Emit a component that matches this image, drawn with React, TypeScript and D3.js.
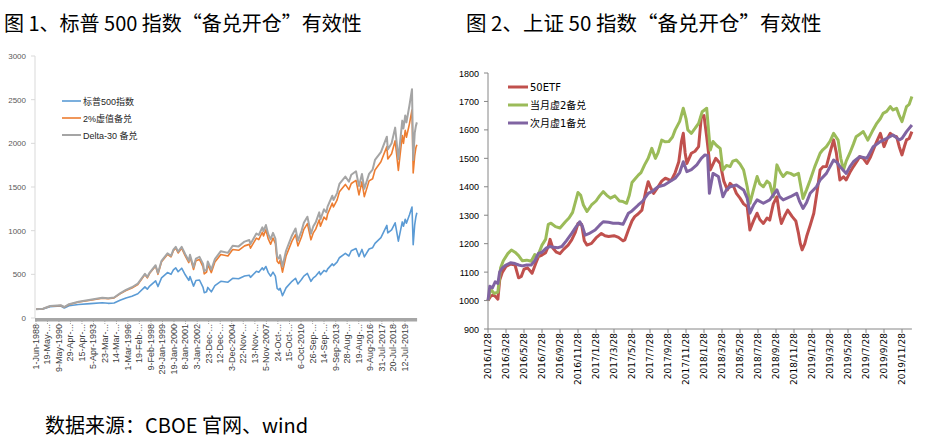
import React from 'react';
import * as d3 from 'd3';

const W = 933;
const H = 446;

// ---------- Chart 1 data (decimal years) ----------
const spxYears = [1988.42, 1989.0, 1989.6, 1990.5, 1990.8, 1991.2, 1992.0, 1993.0, 1994.0, 1994.5, 1995.0, 1995.5, 1996.0, 1996.5, 1997.0, 1997.6, 1997.8, 1998.0, 1998.5, 1998.7, 1999.0, 1999.5, 1999.8, 2000.0, 2000.2, 2000.4, 2000.7, 2001.0, 2001.3, 2001.4, 2001.7, 2001.9, 2002.2, 2002.5, 2002.6, 2002.8, 2002.9, 2003.2, 2003.5, 2004.0, 2004.6, 2005.0, 2005.5, 2006.0, 2006.4, 2006.5, 2007.0, 2007.2, 2007.5, 2007.6, 2007.8, 2008.0, 2008.2, 2008.4, 2008.6, 2008.75, 2008.9, 2009.0, 2009.2, 2009.5, 2010.0, 2010.3, 2010.5, 2010.8, 2011.0, 2011.3, 2011.6, 2011.8, 2012.0, 2012.3, 2012.4, 2012.7, 2012.9, 2013.0, 2013.4, 2013.5, 2013.8, 2014.0, 2014.5, 2014.8, 2015.0, 2015.4, 2015.65, 2015.9, 2016.1, 2016.5, 2016.8, 2017.0, 2017.5, 2018.0, 2018.08, 2018.4, 2018.7, 2018.97, 2019.3, 2019.4, 2019.55, 2019.65, 2019.9, 2020.12, 2020.22, 2020.35, 2020.45, 2020.53];
const spxIndex = [100, 104, 130, 137, 115, 140, 155, 165, 175, 168, 172, 204, 230, 250, 278, 357, 330, 366, 425, 360, 460, 520, 500, 550, 574, 530, 570, 495, 430, 475, 365, 430, 435, 350, 290, 300, 350, 300, 370, 420, 410, 455, 450, 480, 490, 465, 535, 525, 575, 550, 590, 520, 480, 525, 480, 340, 320, 340, 255, 345, 420, 455, 390, 440, 480, 510, 420, 460, 480, 530, 495, 545, 530, 560, 620, 600, 640, 690, 740, 710, 770, 795, 705, 785, 700, 790, 805, 855, 920, 1060, 975, 1010, 1090, 880, 1100, 1050, 1130, 1085, 1180, 1270, 840, 1070, 1160, 1205];
const otm2Values = [100, 105, 135, 144, 124, 155, 183, 204, 228, 220, 230, 276, 315, 344, 384, 498, 460, 512, 595, 500, 644, 728, 700, 770, 803, 745, 800, 710, 635, 705, 555, 655, 670, 585, 505, 525, 612, 520, 640, 727, 710, 785, 775, 826, 843, 800, 915, 898, 982, 940, 1010, 905, 845, 915, 855, 650, 625, 660, 525, 710, 880, 955, 825, 928, 1015, 1080, 895, 975, 1018, 1125, 1050, 1155, 1125, 1188, 1315, 1272, 1350, 1445, 1530, 1470, 1540, 1575, 1410, 1560, 1390, 1570, 1595, 1695, 1790, 1962, 1820, 1880, 2030, 1690, 2090, 2000, 2150, 2070, 2220, 2382, 1660, 1860, 1950, 1985];
const delta30Values = [100, 106, 137, 146, 126, 158, 186, 208, 231, 225, 235, 282, 322, 352, 394, 507, 470, 520, 604, 515, 655, 740, 712, 783, 815, 760, 815, 730, 655, 725, 580, 680, 700, 620, 535, 555, 648, 555, 675, 765, 746, 828, 820, 875, 893, 848, 968, 950, 1038, 995, 1065, 960, 900, 975, 910, 700, 680, 720, 590, 770, 945, 1025, 885, 995, 1090, 1160, 965, 1050, 1095, 1210, 1130, 1245, 1210, 1275, 1400, 1350, 1430, 1535, 1620, 1560, 1640, 1680, 1510, 1650, 1480, 1650, 1700, 1810, 1900, 2076, 1930, 2000, 2180, 1820, 2260, 2170, 2320, 2240, 2430, 2619, 1810, 2120, 2200, 2240];
const chart1TickYears = [1988.415, 1989.38, 1990.35, 1991.32, 1992.29, 1993.26, 1994.22, 1995.2, 1996.16, 1997.13, 1998.11, 1999.08, 2000.05, 2001.02, 2002.01, 2002.97, 2003.95, 2004.92, 2005.89, 2006.87, 2007.84, 2008.81, 2009.79, 2010.76, 2011.74, 2012.7, 2013.69, 2014.65, 2015.63, 2016.6, 2017.58, 2018.55, 2019.53];
const chart1TickLabels = ['1-Jun-1988', '19-May-...', '9-May-1990', '29-Apr-...', '15-Apr-...', '5-Apr-1993', '23-Mar-...', '14-Mar-...', '1-Mar-1996', '19-Feb-...', '9-Feb-1998', '29-Jan-1999', '19-Jan-2000', '8-Jan-2001', '3-Jan-2002', '23-Dec-...', '12-Dec-...', '3-Dec-2004', '22-Nov-...', '13-Nov-...', '5-Nov-2007', '24-Oct-...', '15-Oct-...', '6-Oct-2010', '26-Sep-...', '14-Sep-...', '9-Sep-2013', '28-Aug-...', '19-Aug-...', '9-Aug-2016', '31-Jul-2017', '20-Jul-2018', '12-Jul-2019'];
const chart1YTicks = [0, 500, 1000, 1500, 2000, 2500, 3000];
const chart1Legend = ['标普500指数', '2%虚值备兑', 'Delta-30 备兑'];

// ---------- Chart 2 data (months since 2016/1/28) ----------
const etfMonths = [0, 0.3, 0.6, 0.9, 1.1, 1.3, 1.6, 2.0, 2.5, 3.0, 3.4, 3.7, 4.0, 4.4, 4.9, 5.3, 5.6, 6.0, 6.4, 6.7, 6.9, 7.2, 7.6, 8.0, 8.4, 8.9, 9.3, 9.7, 10.0, 10.4, 10.7, 11.0, 11.5, 12.0, 12.6, 13.0, 13.4, 14.0, 14.5, 15.0, 15.2, 15.6, 16.0, 16.3, 16.7, 17.1, 17.5, 17.8, 18.1, 18.4, 18.9, 19.3, 19.7, 20.1, 20.4, 20.8, 21.2, 21.5, 21.7, 21.9, 22.1, 22.6, 23.0, 23.4, 23.7, 24.0, 24.3, 24.5, 24.7, 25.0, 25.3, 25.8, 26.2, 26.6, 26.9, 27.3, 27.6, 28.0, 28.4, 28.8, 29.1, 29.5, 29.9, 30.2, 30.6, 31.0, 31.3, 31.7, 32.1, 32.4, 32.6, 33.0, 33.3, 33.8, 34.2, 34.5, 34.7, 34.9, 35.2, 35.4, 35.8, 36.2, 36.6, 36.9, 37.2, 37.6, 38.0, 38.4, 38.7, 39.1, 39.5, 39.8, 40.2, 40.6, 41.0, 41.3, 41.7, 42.1, 42.5, 42.8, 43.2, 43.6, 44.0, 44.3, 44.7, 45.0, 45.4, 45.7, 46.0, 46.3, 46.5, 46.8, 47.1];
const etfValues = [1000, 1015, 1020, 1012, 1005, 1072, 1100, 1120, 1128, 1125, 1080, 1085, 1110, 1115, 1096, 1130, 1154, 1160, 1168, 1190, 1215, 1185, 1170, 1165, 1180, 1195, 1213, 1240, 1271, 1268, 1210, 1195, 1201, 1220, 1236, 1228, 1225, 1228, 1222, 1210, 1213, 1248, 1280, 1295, 1305, 1318, 1380, 1418, 1395, 1377, 1400, 1420, 1430, 1425, 1424, 1450, 1488, 1560, 1588, 1520, 1482, 1518, 1525, 1541, 1646, 1650, 1576, 1520, 1459, 1480, 1500, 1482, 1420, 1389, 1412, 1400, 1377, 1360, 1340, 1330, 1248, 1280, 1307, 1285, 1271, 1290, 1283, 1340, 1365, 1300, 1271, 1300, 1318, 1295, 1280, 1236, 1200, 1178, 1200, 1225, 1265, 1307, 1390, 1459, 1470, 1471, 1520, 1565, 1520, 1424, 1435, 1424, 1450, 1471, 1490, 1506, 1500, 1482, 1505, 1529, 1560, 1588, 1541, 1565, 1588, 1580, 1576, 1540, 1512, 1545, 1565, 1570, 1594];
const front2Months = [0, 0.3, 0.7, 1.1, 1.4, 1.7, 2.2, 2.6, 3.0, 3.4, 3.8, 4.3, 4.8, 5.2, 5.5, 6.0, 6.4, 6.7, 7.0, 7.5, 8.0, 8.6, 9.0, 9.4, 10.0, 10.3, 10.6, 11.0, 11.5, 12.0, 12.4, 12.8, 13.2, 13.6, 14.1, 14.6, 15.0, 15.4, 15.7, 16.0, 16.4, 16.7, 17.0, 17.4, 17.8, 18.2, 18.6, 18.9, 19.3, 19.7, 20.1, 20.5, 20.8, 21.3, 21.7, 22.0, 22.2, 22.6, 23.0, 23.4, 23.8, 24.3, 24.5, 24.7, 25.0, 25.4, 25.8, 26.1, 26.5, 26.9, 27.2, 27.6, 28.0, 28.4, 28.8, 29.1, 29.5, 29.9, 30.2, 30.6, 31.0, 31.3, 31.7, 32.1, 32.5, 32.8, 33.2, 33.6, 34.0, 34.5, 35.0, 35.4, 35.8, 36.3, 36.9, 37.2, 37.6, 38.0, 38.4, 38.9, 39.2, 39.5, 39.8, 40.2, 40.6, 40.9, 41.3, 41.7, 42.2, 42.7, 43.2, 43.6, 43.9, 44.3, 44.7, 45.0, 45.4, 45.7, 46.0, 46.5, 46.8, 47.1];
const front2Values = [1000, 1040, 1025, 1030, 1115, 1140, 1165, 1178, 1170, 1158, 1140, 1142, 1138, 1162, 1155, 1195, 1215, 1268, 1272, 1260, 1255, 1277, 1290, 1310, 1380, 1370, 1336, 1313, 1336, 1350, 1368, 1383, 1370, 1360, 1368, 1350, 1348, 1342, 1370, 1415, 1430, 1441, 1450, 1477, 1500, 1535, 1500, 1520, 1564, 1558, 1559, 1575, 1600, 1630, 1676, 1640, 1600, 1588, 1605, 1623, 1664, 1676, 1600, 1529, 1559, 1545, 1535, 1459, 1475, 1471, 1490, 1494, 1480, 1459, 1400, 1342, 1390, 1436, 1410, 1400, 1420, 1412, 1365, 1477, 1450, 1436, 1450, 1447, 1440, 1447, 1359, 1390, 1424, 1470, 1518, 1530, 1541, 1560, 1588, 1564, 1500, 1459, 1490, 1518, 1550, 1576, 1585, 1594, 1564, 1595, 1623, 1640, 1658, 1665, 1682, 1670, 1676, 1650, 1629, 1682, 1690, 1717];
const next1Months = [0, 0.2, 0.5, 0.8, 1.1, 1.3, 1.6, 2.0, 2.5, 3.0, 3.4, 3.8, 4.3, 4.8, 5.2, 5.6, 6.0, 6.5, 6.9, 7.3, 7.8, 8.2, 8.7, 9.3, 9.8, 10.2, 10.5, 10.8, 11.2, 11.9, 12.4, 12.8, 13.4, 13.9, 14.5, 15.0, 15.6, 16.0, 16.7, 17.2, 17.8, 18.3, 18.9, 19.6, 20.3, 20.8, 21.3, 21.7, 22.1, 22.6, 23.2, 23.7, 24.1, 24.4, 24.6, 25.0, 25.6, 26.1, 26.5, 26.9, 27.6, 28.4, 28.8, 29.1, 29.5, 29.9, 30.6, 31.3, 32.1, 32.4, 32.8, 33.6, 34.3, 34.6, 35.0, 35.4, 35.8, 36.5, 36.9, 37.6, 38.4, 38.8, 39.1, 39.8, 40.2, 40.6, 41.3, 42.1, 42.8, 43.6, 44.3, 45.0, 45.7, 46.0, 46.5, 47.1];
const next1Values = [1000, 1050, 1045, 1066, 1060, 1101, 1115, 1125, 1133, 1130, 1125, 1122, 1125, 1125, 1140, 1166, 1170, 1185, 1190, 1187, 1186, 1190, 1210, 1236, 1260, 1277, 1260, 1230, 1235, 1248, 1265, 1277, 1275, 1272, 1272, 1268, 1307, 1315, 1336, 1350, 1377, 1385, 1400, 1406, 1420, 1430, 1450, 1488, 1453, 1460, 1477, 1500, 1512, 1510, 1377, 1447, 1436, 1365, 1390, 1400, 1406, 1389, 1360, 1307, 1335, 1354, 1342, 1354, 1389, 1365, 1354, 1365, 1377, 1350, 1324, 1345, 1377, 1400, 1424, 1447, 1494, 1485, 1471, 1447, 1470, 1488, 1506, 1500, 1541, 1559, 1570, 1582, 1565, 1570, 1594, 1617];
const chart2TickLabels = ['2016/1/28', '2016/3/28', '2016/5/28', '2016/7/28', '2016/9/28', '2016/11/28', '2017/1/28', '2017/3/28', '2017/5/28', '2017/7/28', '2017/9/28', '2017/11/28', '2018/1/28', '2018/3/28', '2018/5/28', '2018/7/28', '2018/9/28', '2018/11/28', '2019/1/28', '2019/3/28', '2019/5/28', '2019/7/28', '2019/9/28', '2019/11/28'];
const chart2YTicks = [900, 1000, 1100, 1200, 1300, 1400, 1500, 1600, 1700, 1800];
const chart2Legend = ['50ETF', '当月虚2备兑', '次月虚1备兑'];

const CJK = '"Noto Sans CJK SC", sans-serif';
const LAT_CJK = '"Liberation Sans", "Noto Sans CJK SC", sans-serif';
const DV_CJK = '"DejaVu Sans", "Noto Sans CJK SC", sans-serif';

function Chart1() {
  const x = d3.scaleLinear().domain([1988.415, 2019.53]).range([36, 405]);
  const y = d3.scaleLinear().domain([0, 3000]).range([318, 56]);
  const mk = (vals: number[]) =>
    d3.line<number>().x((_, i) => x(spxYears[i])).y((v) => y(v))(vals) || '';
  const series = [
    { vals: spxIndex, color: '#5B9BD5', w: 1.6 },
    { vals: otm2Values, color: '#ED7D31', w: 1.6 },
    { vals: delta30Values, color: '#A5A5A5', w: 2 },
  ];
  const xEnd = x(2020.55);
  return (
    <g>
      <line x1={35} x2={35} y1={56} y2={318} stroke="#d9d9d9" strokeWidth={1} />
      {chart1YTicks.map((t) => (
        <g key={t}>
          <line x1={31} x2={35} y1={y(t)} y2={y(t)} stroke="#d9d9d9" />
          <text x={26} y={y(t) + 3} fontSize={8} fill="#595959" textAnchor="end" fontFamily={LAT_CJK}>
            {t}
          </text>
        </g>
      ))}
      {series.map((s, i) => (
        <path key={i} d={mk(s.vals)} fill="none" stroke={s.color} strokeWidth={s.w} strokeLinejoin="round" />
      ))}
      <rect x={35} y={318} width={xEnd - 35} height={3.5} fill="#a6a6a6" />
      {chart1TickYears.map((t, i) => (
        <g key={i}>
          <line x1={x(t)} x2={x(t)} y1={321} y2={324} stroke="#a6a6a6" strokeDasharray="1,1" />
          <text
            transform={`translate(${x(t) + 3},${324}) rotate(-90)`}
            fontSize={9}
            fill="#404040"
            textAnchor="end"
            fontFamily={LAT_CJK}
          >
            {chart1TickLabels[i]}
          </text>
        </g>
      ))}
      {chart1Legend.map((name, i) => (
        <g key={name}>
          <line x1={62} x2={81} y1={101 + i * 17} y2={101 + i * 17} stroke={series[i].color} strokeWidth={series[i].w} />
          <text x={83} y={101 + i * 17 + 3.5} fontSize={9} fill="#262626" fontFamily={LAT_CJK}>
            {name}
          </text>
        </g>
      ))}
    </g>
  );
}

function Chart2() {
  const x = d3.scaleLinear().domain([0, 46]).range([488, 902]);
  const y = d3.scaleLinear().domain([900, 1800]).range([329, 73]);
  const mk = (ms: number[], vals: number[]) =>
    d3.line<number>().x((_, i) => x(ms[i])).y((v) => y(v))(vals) || '';
  const series = [
    { ms: etfMonths, vals: etfValues, color: '#C0504D' },
    { ms: front2Months, vals: front2Values, color: '#9BBB59' },
    { ms: next1Months, vals: next1Values, color: '#8064A2' },
  ];
  return (
    <g>
      <line x1={488} x2={488} y1={73} y2={329} stroke="#868686" />
      {chart2YTicks.map((t) => (
        <g key={t}>
          <line x1={484} x2={488} y1={y(t)} y2={y(t)} stroke="#868686" />
          <text x={479} y={y(t) + 3.5} fontSize={9} fill="#000" textAnchor="end" fontFamily={LAT_CJK}>
            {t}
          </text>
        </g>
      ))}
      {series.map((s, i) => (
        <path key={i} d={mk(s.ms, s.vals)} fill="none" stroke={s.color} strokeWidth={3} strokeLinejoin="round" />
      ))}
      <line x1={488} x2={x(47.1)} y1={329} y2={329} stroke="#868686" />
      {chart2TickLabels.map((lab, i) => (
        <g key={lab}>
          <line x1={x(i * 2)} x2={x(i * 2)} y1={329} y2={333} stroke="#868686" />
          <text
            transform={`translate(${x(i * 2) + 3},${333}) rotate(-90)`}
            fontSize={9}
            fill="#000"
            textAnchor="end"
            fontFamily={DV_CJK}
          >
            {lab}
          </text>
        </g>
      ))}
      {chart2Legend.map((name, i) => (
        <g key={name}>
          <line x1={508} x2={528} y1={87 + i * 18} y2={87 + i * 18} stroke={series[i].color} strokeWidth={3} />
          <text x={530} y={87 + i * 18 + 4} fontSize={10} fill="#000" fontFamily={DV_CJK}>
            {name}
          </text>
        </g>
      ))}
    </g>
  );
}

export default function App() {
  return (
    <svg
      width={W}
      height={H}
      viewBox={`0 0 ${W} ${H}`}
      style={{ position: 'absolute', left: 0, top: 0, background: '#fff' }}
    >
      <rect width={W} height={H} fill="#fff" />
      <text x={4} y={31} fontSize={20} fontFamily={CJK} fill="#000">
        图 1、标普 500 指数“备兑开仓”有效性
      </text>
      <text x={466} y={31} fontSize={20.5} fontFamily={CJK} fill="#000">
        图 2、上证 50 指数“备兑开仓”有效性
      </text>
      <Chart1 />
      <Chart2 />
      <text x={45} y={433} fontSize={20} fontFamily={CJK} fill="#000">
        数据来源：CBOE 官网、wind
      </text>
    </svg>
  );
}
